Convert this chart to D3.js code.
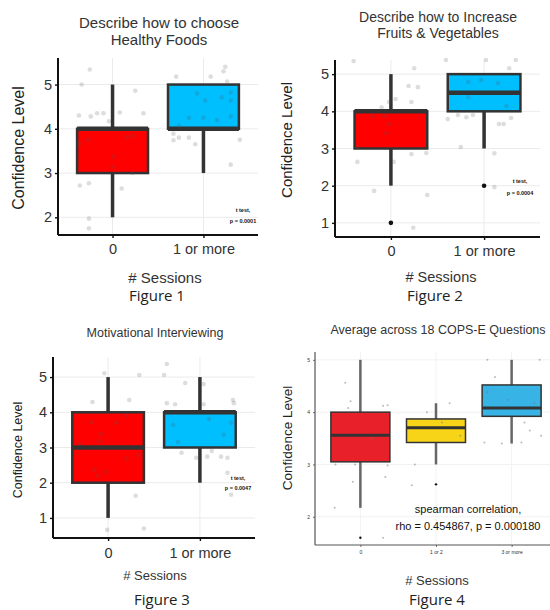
<!DOCTYPE html>
<html>
<head>
<meta charset="utf-8">
<script src="https://cdn.jsdelivr.net/npm/d3@7"></script>
<style>
  body { margin: 0; background: #fff; }
  text { font-family: "Liberation Sans", Arial, sans-serif; }
</style>
</head>
<body>
<div id="chart"></div>
<script>
// categories
const sessions2 = ['0', '1 or more'];
const sessions3 = ['0', '1 or 2', '3 or more'];

// box stats: [lower whisker, q1, median, q3, upper whisker]
const healthyBoxes = [[2, 3, 4, 4, 5], [3, 4, 4, 5, 5]];
const fruitBoxes = [[2, 3, 4, 4, 5], [3, 4, 4.5, 5, 5]];
const motivBoxes = [[1, 2, 3, 4, 5], [2, 3, 4, 4, 5]];
const copsBoxes = [[2.17, 3.05, 3.56, 4.0, 5.0], [3.0, 3.42, 3.7, 3.87, 4.17], [3.4, 3.92, 4.08, 4.52, 5.0]];

// outliers: [group, value]
const fruitOutliers = [[0, 1], [1, 2]];
const copsOutliers = [[0, 1.6], [1, 2.62]];

// jittered raw answers: [group, jitter offset, value]
const healthyPoints = [
    [0, -0.25, 5.34], [0, -0.34, 5.0], [0, 0.25, 4.86], [0, -0.37, 4.3], [0, -0.24, 4.28],
    [0, -0.17, 4.35], [0, -0.1, 4.35], [0, 0.08, 4.37], [0, 0.34, 4.35], [0, -0.04, 4.17],
    [0, -0.37, 3.67], [0, -0.27, 3.76], [0, 0.16, 3.81], [0, 0.23, 3.85], [0, 0.01, 3.37],
    [0, 0, 3.14], [0, 0.22, 3.0], [0, -0.36, 2.72], [0, -0.26, 2.77], [0, 0.1, 2.65],
    [0, -0.26, 1.97], [0, -0.26, 1.75],
    [1, -0.3, 5.18], [1, 0.08, 5.18], [1, 0.22, 5.3], [1, 0.24, 5.4], [1, 0.26, 5.07],
    [1, -0.07, 4.8], [1, 0.02, 4.64], [1, 0.2, 4.71], [1, 0.3, 4.82], [1, 0.3, 4.64],
    [1, 0.3, 4.28], [1, -0.16, 4.25], [1, 0, 4.25], [1, 0.15, 4.2], [1, -0.27, 4.07],
    [1, -0.33, 3.89], [1, -0.27, 3.8], [1, -0.16, 3.8], [1, -0.33, 3.74], [1, -0.09, 3.65],
    [1, 0.4, 3.75], [1, 0.3, 3.19]
];
const fruitPoints = [
    [0, -0.4, 5.35], [0, 0.25, 5.16], [0, 0.19, 4.68], [0, 0.29, 4.65], [0, 0.05, 4.33],
    [0, -0.02, 4.25], [0, 0.22, 4.25], [0, -0.1, 4.11], [0, -0.2, 3.85], [0, -0.07, 3.87],
    [0, -0.02, 3.66], [0, -0.05, 3.41], [0, -0.36, 3.04], [0, 0.22, 2.85], [0, 0.38, 2.88],
    [0, 0.03, 2.64], [0, -0.36, 2.64], [0, -0.18, 1.86], [0, 0.39, 1.75], [0, 0.24, 0.87],
    [1, -0.41, 5.38], [1, 0.02, 5.38], [1, 0.34, 5.38], [1, 0.27, 5.16], [1, -0.17, 4.79],
    [1, -0.03, 4.84], [1, 0.15, 4.76], [1, -0.17, 4.38], [1, 0.24, 4.14], [1, -0.39, 3.79],
    [1, -0.28, 3.9], [1, -0.19, 3.84], [1, -0.12, 3.9], [1, 0.16, 3.66], [1, 0.21, 3.66],
    [1, 0.29, 3.82], [1, -0.25, 3.04], [1, 0.11, 2.87], [1, 0.11, 1.96]
];
const motivPoints = [
    [0, -0.04, 5.11], [0, 0.34, 5.06], [0, -0.17, 4.29], [0, 0.23, 4.35], [0, -0.18, 3.72],
    [0, 0.09, 3.7], [0, 0.2, 3.9], [0, -0.08, 3.39], [0, -0.1, 3.19], [0, -0.31, 3.1],
    [0, 0.33, 2.79], [0, 0.2, 2.68], [0, -0.15, 2.37], [0, -0.03, 2.31], [0, -0.11, 2.2],
    [0, 0.3, 1.63], [0, 0.39, 0.7], [0, -0.01, 0.66],
    [1, -0.36, 5.37], [1, -0.39, 5.06], [1, -0.16, 4.83], [1, 0.04, 4.8], [1, -0.36, 4.26],
    [1, -0.27, 4.23], [1, 0.04, 4.23], [1, 0.36, 4.35], [1, 0.37, 4.26], [1, -0.29, 3.64],
    [1, 0.1, 3.81], [1, 0.26, 3.36], [1, 0.34, 3.7], [1, -0.24, 3.16], [1, -0.2, 2.85],
    [1, -0.04, 2.71], [1, 0.08, 2.74], [1, 0.13, 2.9], [1, 0.23, 2.74], [1, 0.3, 2.71],
    [1, 0.34, 1.66], [1, 0.3, 2.28]
];
const copsPoints = [
    [0, -0.2, 4.56], [0, -0.13, 4.21], [0, -0.16, 4.08], [0, 0.3, 4.12], [0, 0.36, 4.13],
    [0, -0.33, 3.0], [0, -0.07, 3.0], [0, 0.36, 2.98], [0, -0.1, 2.67], [0, 0.33, 2.76],
    [0, -0.34, 2.17], [0, 0.3, 1.6], [0, 0.16, 3.5],
    [1, -0.12, 4.0], [1, 0.18, 4.17], [1, -0.28, 3.0], [1, -0.32, 2.6], [1, 0.32, 3.55], [1, 0.08, 3.8],
    [2, -0.32, 5.0], [2, 0.37, 5.0], [2, -0.22, 4.67], [2, -0.36, 3.42], [2, -0.13, 3.4],
    [2, 0.13, 3.42], [2, 0.24, 3.65], [2, 0.39, 3.55], [2, 0.17, 3.8], [2, -0.05, 4.23],
    [2, 0.3, 4.17], [2, -0.32, 4.38]
];

// y tick labels
const yTicks1to5 = [1, 2, 3, 4, 5];
const yTicks2to5 = [2, 3, 4, 5];

const svg = d3.select('#chart').append('svg')
    .attr('width', 550)
    .attr('height', 610);

function drawPanel(cfg) {
    const g = svg.append('g');

    const x = d3.scalePoint()
        .domain(cfg.cats)
        .range([cfg.left, cfg.right])
        .padding(0.6);
    const step = x.step();

    const y = d3.scaleLinear()
        .domain(cfg.yDomain)
        .range([cfg.bottom, cfg.top]);

    // grid
    g.append('g').selectAll('line')
        .data(cfg.yTicks)
        .enter().append('line')
        .attr('x1', cfg.left).attr('x2', cfg.right)
        .attr('y1', d => y(d)).attr('y2', d => y(d))
        .attr('stroke', cfg.gridColor).attr('stroke-width', 1);
    g.append('g').selectAll('line')
        .data(cfg.cats)
        .enter().append('line')
        .attr('x1', d => x(d)).attr('x2', d => x(d))
        .attr('y1', cfg.top).attr('y2', cfg.bottom)
        .attr('stroke', cfg.gridColor).attr('stroke-width', 1);

    const bw = step * 0.78;
    const boxes = g.append('g').selectAll('g')
        .data(cfg.boxes)
        .enter().append('g');

    // whiskers
    boxes.append('line')
        .attr('x1', (d, i) => x(cfg.cats[i])).attr('x2', (d, i) => x(cfg.cats[i]))
        .attr('y1', d => y(d[4])).attr('y2', d => y(d[3]))
        .attr('stroke', cfg.whiskerColor).attr('stroke-width', cfg.whiskerWidth);
    boxes.append('line')
        .attr('x1', (d, i) => x(cfg.cats[i])).attr('x2', (d, i) => x(cfg.cats[i]))
        .attr('y1', d => y(d[1])).attr('y2', d => y(d[0]))
        .attr('stroke', cfg.whiskerColor).attr('stroke-width', cfg.whiskerWidth);
    boxes.append('rect')
        .attr('x', (d, i) => x(cfg.cats[i]) - bw / 2)
        .attr('width', bw)
        .attr('y', d => y(d[3]))
        .attr('height', d => y(d[1]) - y(d[3]))
        .attr('fill', (d, i) => cfg.colors[i])
        .attr('stroke', '#333').attr('stroke-width', cfg.boxWidth);
    boxes.append('line')
        .attr('x1', (d, i) => x(cfg.cats[i]) - bw / 2).attr('x2', (d, i) => x(cfg.cats[i]) + bw / 2)
        .attr('y1', d => y(d[2])).attr('y2', d => y(d[2]))
        .attr('stroke', '#333').attr('stroke-width', cfg.medianWidth);

    // outliers
    g.append('g').selectAll('circle')
        .data(cfg.outliers || [])
        .enter().append('circle')
        .attr('cx', d => x(cfg.cats[d[0]]))
        .attr('cy', d => y(d[1]))
        .attr('r', cfg.outlierR)
        .attr('fill', '#111');

    // jittered points
    g.append('g').selectAll('circle')
        .data(cfg.points)
        .enter().append('circle')
        .attr('cx', d => x(cfg.cats[d[0]]) + d[1] * step)
        .attr('cy', d => y(d[2]))
        .attr('r', cfg.pointR)
        .attr('fill', cfg.pointColor)
        .attr('fill-opacity', cfg.pointOpacity);

    // axes
    const yAxis = g.append('g')
        .attr('transform', `translate(${cfg.left},0)`)
        .call(d3.axisLeft(y).tickValues(cfg.yTicks).tickFormat(d3.format('d'))
            .tickSize(cfg.tickLen).tickSizeOuter(0).tickPadding(3));
    const xAxis = g.append('g')
        .attr('transform', `translate(0,${cfg.bottom})`)
        .call(d3.axisBottom(x).tickSize(cfg.tickLen).tickSizeOuter(0).tickPadding(cfg.xPad));
    [yAxis, xAxis].forEach(a => {
        a.select('.domain').attr('stroke', cfg.axisColor).attr('stroke-width', cfg.axisWidth);
        a.selectAll('.tick line').attr('stroke', cfg.axisColor).attr('stroke-width', cfg.axisWidth * 0.7);
        a.selectAll('.tick text')
            .attr('fill', '#333')
            .style('font-family', '"Liberation Sans", Arial, sans-serif')
            .style('font-size', cfg.tickFont + 'px');
    });
    yAxis.select('.domain').attr('d', `M0,${cfg.top}V${cfg.bottom}`);
    xAxis.select('.domain').attr('d', `M${cfg.left},0H${cfg.right}`);

    // titles
    cfg.title.forEach((t, i) => {
        g.append('text')
            .attr('x', cfg.titleX).attr('y', cfg.titleY[i])
            .attr('dy', '0.35em')
            .attr('text-anchor', 'middle')
            .attr('fill', '#333')
            .style('font-size', cfg.titleFont + 'px')
            .text(t);
    });
    g.append('text')
        .attr('transform', `translate(${cfg.yLabelX},${cfg.yLabelY}) rotate(-90)`)
        .attr('dy', '0.35em')
        .attr('text-anchor', 'middle')
        .attr('fill', '#222')
        .style('font-size', cfg.yLabelFont + 'px')
        .text('Confidence Level');
    g.append('text')
        .attr('x', cfg.xLabelX).attr('y', cfg.xLabelY)
        .attr('dy', '0.35em')
        .attr('text-anchor', 'middle')
        .attr('fill', '#333')
        .style('font-size', cfg.xLabelFont + 'px')
        .text('# Sessions');
    g.append('text')
        .attr('x', cfg.figX).attr('y', cfg.figY)
        .attr('dy', '0.35em')
        .attr('text-anchor', 'middle')
        .attr('fill', '#222')
        .style('font-family', '"Open Sans", Lato, sans-serif')
        .style('font-size', '15px')
        .text(cfg.figure);

    // annotation
    cfg.note.forEach((t, i) => {
        g.append('text')
            .attr('x', cfg.noteX).attr('y', cfg.noteY[i])
            .attr('dy', '0.35em')
            .attr('text-anchor', 'middle')
            .attr('fill', '#111')
            .style('font-size', cfg.noteFont + 'px')
            .style('font-weight', cfg.noteWeight)
            .text(t);
    });
}

const classic = {
    gridColor: '#ebebeb', whiskerColor: '#333', whiskerWidth: 3.5, boxWidth: 2.5, medianWidth: 4.5,
    outlierR: 2.3, pointR: 2.3, pointColor: '#555', pointOpacity: 0.2,
    tickLen: 3, axisColor: '#111', axisWidth: 2, tickFont: 14.5, xPad: 5,
    colors: ['#fe0000', '#00bfff'], noteFont: 5.5, noteWeight: 'bold'
};

drawPanel(Object.assign({}, classic, {
    cats: sessions2, boxes: healthyBoxes, points: healthyPoints,
    left: 58, right: 258, top: 58, bottom: 235, yDomain: [1.6, 5.6], yTicks: yTicks2to5,
    title: ['Describe how to choose', 'Healthy Foods'], titleX: 159, titleY: [23, 40], titleFont: 15,
    yLabelX: 18, yLabelY: 148, yLabelFont: 16, xPad: 6,
    xLabelX: 165, xLabelY: 278, xLabelFont: 15,
    figure: 'Figure 1', figX: 157, figY: 296,
    note: ['t test,', 'p = 0.0001'], noteX: 243, noteY: [210, 221]
}));

drawPanel(Object.assign({}, classic, {
    cats: sessions2, boxes: fruitBoxes, points: fruitPoints, outliers: fruitOutliers,
    left: 335, right: 540, top: 60, bottom: 237, yDomain: [0.62, 5.38], yTicks: yTicks1to5,
    title: ['Describe how to Increase', 'Fruits & Vegetables'], titleX: 438, titleY: [17, 33], titleFont: 14,
    yLabelX: 287, yLabelY: 140, yLabelFont: 15, xPad: 6,
    xLabelX: 441, xLabelY: 277, xLabelFont: 14.5,
    figure: 'Figure 2', figX: 435, figY: 296,
    note: ['t test,', 'p = 0.0004'], noteX: 520, noteY: [181, 193]
}));

drawPanel(Object.assign({}, classic, {
    cats: sessions2, boxes: motivBoxes, points: motivPoints,
    left: 53, right: 255, top: 357, bottom: 538, yDomain: [0.43, 5.57], yTicks: yTicks1to5,
    title: ['Motivational Interviewing'], titleX: 155, titleY: [333], titleFont: 12.5,
    yLabelX: 18, yLabelY: 450, yLabelFont: 12.5, xPad: 7,
    xLabelX: 155, xLabelY: 575, xLabelFont: 13,
    figure: 'Figure 3', figX: 162, figY: 600,
    note: ['t test,', 'p = 0.0047'], noteX: 238, noteY: [478, 488]
}));

drawPanel(Object.assign({}, classic, {
    cats: sessions3, boxes: copsBoxes, points: copsPoints, outliers: copsOutliers,
    left: 315, right: 557, top: 352, bottom: 545, yDomain: [1.46, 5.15], yTicks: yTicks2to5,
    gridColor: '#f2f2f2', whiskerColor: '#666', whiskerWidth: 2.5, boxWidth: 1.5, medianWidth: 3,
    outlierR: 1.2, pointR: 1, pointColor: '#777', pointOpacity: 0.5,
    tickLen: 2, axisColor: '#555', axisWidth: 1.2, tickFont: 5, xPad: 3,
    colors: ['#e8202a', '#f7d417', '#38b3e6'],
    title: ['Average across 18 COPS-E Questions'], titleX: 438, titleY: [330], titleFont: 12.5,
    yLabelX: 287, yLabelY: 438, yLabelFont: 13.5,
    xLabelX: 437, xLabelY: 580, xLabelFont: 13,
    figure: 'Figure 4', figX: 437, figY: 600,
    note: ['spearman correlation,', 'rho = 0.454867, p = 0.000180'], noteX: 468, noteY: [509, 526],
    noteFont: 11, noteWeight: 'normal'
}));
</script>
</body>
</html>
